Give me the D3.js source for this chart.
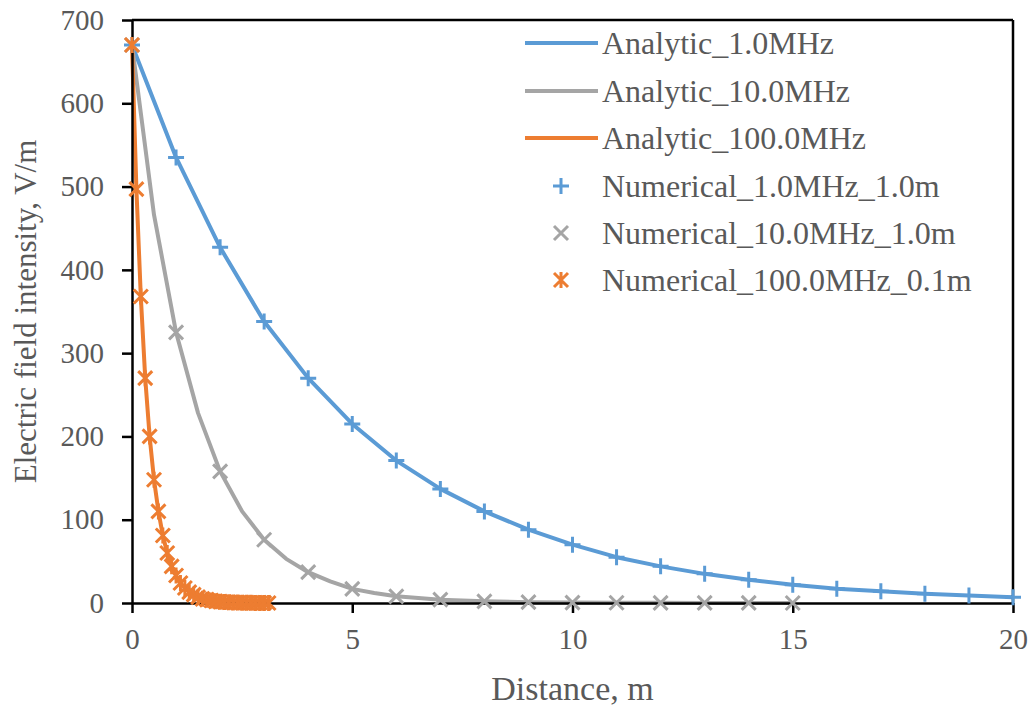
<!DOCTYPE html>
<html><head><meta charset="utf-8">
<script src="https://cdn.jsdelivr.net/npm/d3@7"></script>
<style>body{margin:0;background:#fff}svg{display:block}text{font-family:"Liberation Serif","Times New Roman",serif;fill:#595959}</style>
</head><body>
<svg id="c" width="1029" height="709"></svg>
<script>
// ---- data ----
const xTicks = [0, 5, 10, 15, 20];
const yTicks = [0, 100, 200, 300, 400, 500, 600, 700];

const a1x = [0,1,2,3,4,5,6,7,8,9,10,11,12,13,14,15,16,17,18,19,20];
const a1y = [670,535,427,338,270,215,171,137,110,88,70,55,44,35,28,22,17,14,11,9,7];

const a10x = [0,0.5,1,1.5,2,2.5,3,3.5,4,4.5,5,5.5,6,6.5,7,7.5,8,9,10,11,12,13,14,15];
const a10y = [670,466,325,228,158,110,76,53,37,26,17,12,8,6,4,3,2,1,0.5,0.3,0.2,0.1,0.1,0];

const a100x = [0,0.1,0.2,0.3,0.4,0.5,0.6,0.7,0.8,0.9,1.0,1.1,1.2,1.3,1.4,1.5,1.6,1.7,1.8,1.9,2.0,2.1,2.2,2.3,2.4,2.5,2.6,2.7,2.8,2.9,3.0,3.1];
const a100y = [670,497,368,270,200,148,110,81,60,44,33,24,18,13,10,7,5,4,3,2,1.6,1.2,0.9,0.6,0.5,0.4,0.3,0.2,0.15,0.1,0.1,0.05];

const n1x = [0,1,2,3,4,5,6,7,8,9,10,11,12,13,14,15,16,17,18,19,20];
const n1y = [670,535,427,338,270,215,171,137,110,88,70,55,44,35,28,22,17,14,11,9,7];

const n10x = [0,1,2,3,4,5,6,7,8,9,10,11,12,13,14,15];
const n10y = [670,325,158,76,37,17,8,4,2,1,0.5,0.3,0.2,0.1,0.1,0];

const n100x = a100x;
const n100y = a100y;

const seriesNames = ["Analytic_1.0MHz","Analytic_10.0MHz","Analytic_100.0MHz","Numerical_1.0MHz_1.0m","Numerical_10.0MHz_1.0m","Numerical_100.0MHz_0.1m"];
const colors = ["#5B9BD5","#A5A5A5","#ED7D31"];

// ---- chart ----
const svg = d3.select("#c");
const L=132, R=1013, T=20, B=603;
const x = d3.scaleLinear().domain([0,20]).range([L,R]);
const y = d3.scaleLinear().domain([0,700]).range([B,T]);

const line = d3.line().x(d=>x(d[0])).y(d=>y(d[1]));
const zip = (a,b)=>a.map((v,i)=>[v,b[i]]);

const lines = [zip(a1x,a1y), zip(a10x,a10y), zip(a100x,a100y)];
lines.forEach((d,i)=>{
  svg.append("path").attr("d",line(d)).attr("fill","none")
    .attr("stroke",colors[i]).attr("stroke-width",4).attr("stroke-linejoin","round");
});

// axes
const xAxis = svg.append("g").attr("transform",`translate(0,${B})`)
  .call(d3.axisBottom(x).tickValues(xTicks).tickSize(10).tickPadding(10).tickSizeOuter(0));
const yAxis = svg.append("g").attr("transform",`translate(${L},0)`)
  .call(d3.axisLeft(y).tickValues(yTicks).tickSize(10).tickPadding(18).tickSizeOuter(0));
[xAxis,yAxis].forEach(g=>{
  g.selectAll("path,line").attr("stroke","#000").attr("stroke-width",2.5);
  g.selectAll("text").attr("font-size",29).style("font-family","Liberation Serif").attr("fill","#595959");
});
xAxis.selectAll("text").attr("dy","0.9em");
svg.append("line").attr("x1",L).attr("x2",R).attr("y1",T).attr("y2",T).attr("stroke","#000").attr("stroke-width",2.5);
svg.append("line").attr("x1",R).attr("x2",R).attr("y1",T).attr("y2",B).attr("stroke","#000").attr("stroke-width",2.5);

// markers
const mk = {
  plus: "M-8,0H8M0,-8V8",
  cross: "M-7,-7L7,7M-7,7L7,-7",
  star: "M-7,-7L7,7M-7,7L7,-7M0,-8V8"
};
const markerSets = [[zip(n1x,n1y),"plus"],[zip(n10x,n10y),"cross"],[zip(n100x,n100y),"star"]];
markerSets.forEach(([d,s],i)=>{
  svg.append("g").selectAll("path").data(d).join("path")
    .attr("transform",p=>`translate(${x(p[0])},${y(p[1])})`)
    .attr("d",mk[s]).attr("fill","none").attr("stroke",colors[i]).attr("stroke-width",3);
});

// axis titles
svg.append("text").attr("x",(L+R)/2).attr("y",700).attr("text-anchor","middle")
  .attr("font-size",34).text("Distance, m");
svg.append("text").attr("transform",`translate(36,${(T+B)/2}) rotate(-90)`).attr("text-anchor","middle")
  .attr("font-size",31).text("Electric field intensity,  V/m");

// legend
const lg = svg.append("g");
const rowsY = [43,91,138,186,233,280];
seriesNames.forEach((n,i)=>{
  const yy = rowsY[i];
  if(i<3){
    lg.append("line").attr("x1",525).attr("x2",598).attr("y1",yy).attr("y2",yy)
      .attr("stroke",colors[i]).attr("stroke-width",4);
  } else {
    lg.append("path").attr("transform",`translate(561,${yy})`).attr("d",mk[["plus","cross","star"][i-3]])
      .attr("fill","none").attr("stroke",colors[i-3]).attr("stroke-width",3);
  }
  lg.append("text").attr("x",602).attr("y",yy).attr("dy","0.35em").attr("font-size",32).text(n);
});
</script>
</body></html>
